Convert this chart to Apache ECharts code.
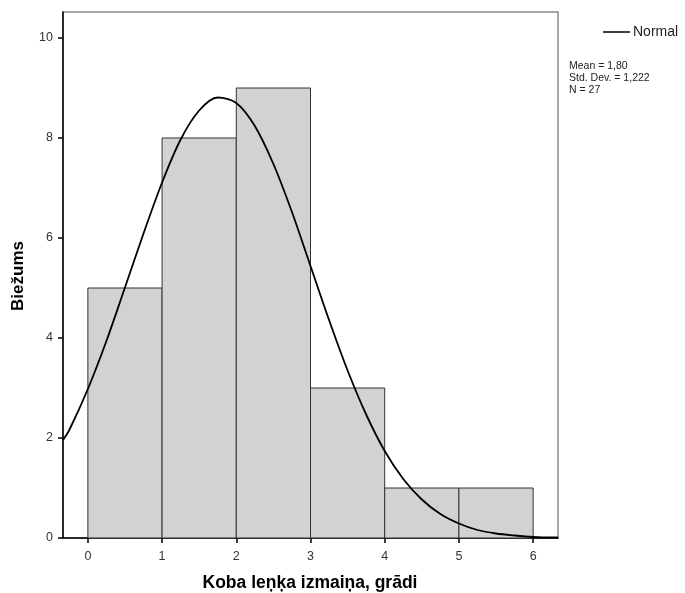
<!DOCTYPE html>
<html>
<head>
<meta charset="utf-8">
<script src="https://cdn.jsdelivr.net/npm/echarts@6/dist/echarts.min.js"></script>
<style>
  html, body { margin: 0; padding: 0; background: #fff; }
  #chart { width: 685px; height: 593px; }
</style>
</head>
<body>
<div id="chart"></div>
<script>
// histogram bins: [start, end]
const binStarts = [0, 1, 2, 3, 4, 5];
const binEnds = [1, 2, 3, 4, 5, 6];
const binCounts = [5, 8, 9, 3, 1, 1];

// normal curve
const curveX = [-0.335, -0.25, 0, 0.25, 0.5, 0.75, 1, 1.25, 1.5, 1.75, 2, 2.25, 2.5, 2.75, 3,
  3.25, 3.5, 3.75, 4, 4.25, 4.5, 4.75, 5, 5.25, 5.5, 5.75, 6, 6.25, 6.335];
const curveY = [1.96, 2.16, 2.98, 3.94, 5.01, 6.09, 7.11, 7.97, 8.55, 8.81, 8.70, 8.24, 7.48, 6.52, 5.44,
  4.36, 3.35, 2.47, 1.74, 1.18, 0.77, 0.48, 0.29, 0.16, 0.09, 0.05, 0.02, 0.01, 0.01];

const xTicks = [0, 1, 2, 3, 4, 5, 6];
const yTicks = [0, 2, 4, 6, 8, 10];

const statsLines = ['Mean = 1,80', 'Std. Dev. = 1,222', 'N = 27'];

const font = 'Liberation Sans, Arial, sans-serif';
const chart = echarts.init(document.getElementById('chart'));

const histData = binStarts.map((s, i) => [s, binEnds[i], binCounts[i]]);
const curveData = curveX.map((x, i) => [x, curveY[i]]);

chart.setOption({
  animation: false,
  grid: {
    left: 63, top: 12, width: 495, height: 526,
    show: true, borderColor: '#8a8a8a', borderWidth: 1.5, backgroundColor: '#fff'
  },
  xAxis: {
    type: 'value', min: -0.335, max: 6.335,
    axisLine: { onZero: false, lineStyle: { color: '#000', width: 1.5 } },
    axisTick: { customValues: xTicks, length: 5, lineStyle: { color: '#000', width: 1.5 } },
    axisLabel: { customValues: xTicks, color: '#333', fontSize: 12.5, fontFamily: font, margin: 12 },
    splitLine: { show: false }
  },
  yAxis: {
    type: 'value', min: 0, max: 10.52,
    axisLine: { show: true, onZero: false, lineStyle: { color: '#000', width: 1.5 } },
    axisTick: { show: true, customValues: yTicks, length: 5, lineStyle: { color: '#000', width: 1.5 } },
    axisLabel: { customValues: yTicks, color: '#333', fontSize: 12.5, fontFamily: font, margin: 10 },
    splitLine: { show: false }
  },
  series: [
    {
      type: 'custom',
      data: histData,
      encode: { x: [0, 1], y: 2 },
      renderItem: function (params, api) {
        const p0 = api.coord([api.value(0), 0]);
        const p1 = api.coord([api.value(1), api.value(2)]);
        return {
          type: 'rect',
          shape: { x: p0[0], y: p1[1], width: p1[0] - p0[0], height: p0[1] - p1[1] },
          style: { fill: '#d2d2d2', stroke: '#333', lineWidth: 1 }
        };
      },
      z: 2
    },
    {
      type: 'line',
      data: curveData,
      smooth: 0.3,
      showSymbol: false,
      lineStyle: { color: '#000', width: 1.8 },
      z: 3
    }
  ],
  graphic: [
    { type: 'line', shape: { x1: 603, y1: 32, x2: 630, y2: 32 }, style: { stroke: '#000', lineWidth: 1.5 } },
    { type: 'text', x: 633, y: 32, style: { text: 'Normal', font: '14px ' + font, fill: '#222', verticalAlign: 'middle' } },
    { type: 'text', left: 569, top: 60, style: { text: statsLines.join('\n'), font: '10.5px ' + font, lineHeight: 12, fill: '#222' } },
    { type: 'text', x: 310, y: 583, style: { text: 'Koba leņķa izmaiņa, grādi', font: 'bold 17.5px ' + font, fill: '#000', align: 'center', verticalAlign: 'middle' } },
    { type: 'text', x: 18, y: 276, rotation: Math.PI / 2, style: { text: 'Biežums', font: 'bold 17px ' + font, fill: '#000', align: 'center', verticalAlign: 'middle' } }
  ]
});
</script>
</body>
</html>
